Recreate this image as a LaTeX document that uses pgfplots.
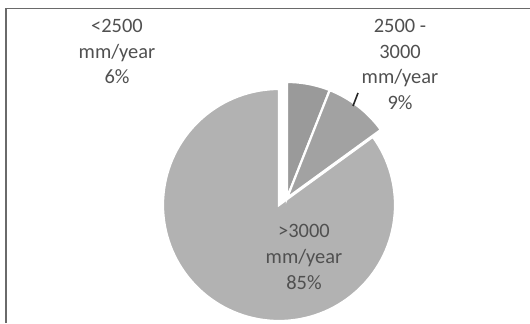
\documentclass[border=0pt]{standalone}
\usepackage{pgfplots}
\usepackage{pgfplotstable}
\pgfplotsset{compat=1.18}
\usepackage{fontspec}
\setmainfont{Carlito}
\definecolor{sliceA}{HTML}{9A9A9A}
\definecolor{sliceB}{HTML}{A2A2A2}
\definecolor{sliceC}{HTML}{B2B2B2}
\definecolor{txt}{HTML}{505050}
\definecolor{frame}{HTML}{6A6A6A}

\pgfplotstableread{
label value
low 6
mid 9
high 85
}\piedata

\begin{document}
\begin{tikzpicture}
\begin{axis}[
  width=530bp, height=323bp, scale only axis,
  xmin=0, xmax=530, ymin=0, ymax=323,
  hide axis, clip=false,
]
\pgfplotstablegetelem{0}{value}\of\piedata \let\vA\pgfplotsretval
\pgfplotstablegetelem{1}{value}\of\piedata \let\vB\pgfplotsretval
\pgfplotstablegetelem{2}{value}\of\piedata \let\vC\pgfplotsretval
\pgfmathsetmacro\aS{90}
\pgfmathsetmacro\aA{90-3.6*\vA}
\pgfmathsetmacro\aB{\aA-3.6*\vB}
\pgfmathsetmacro\aC{\aB-3.6*\vC}
% big slice
\addplot[fill=sliceC, draw=white, line width=2.2bp, domain=\aB:\aC, samples=120, variable=\t]
  ({279+116*cos(\t)},{118+116*sin(\t)}) -- (279,118) -- cycle;
% small slices (exploded)
\addplot[fill=sliceA, draw=white, line width=2.2bp, domain=\aS:\aA, samples=20, variable=\t]
  ({287+116*cos(\t)},{125+116*sin(\t)}) -- (287,125) -- cycle;
\addplot[fill=sliceB, draw=white, line width=2.2bp, domain=\aA:\aB, samples=25, variable=\t]
  ({287+116*cos(\t)},{125+116*sin(\t)}) -- (287,125) -- cycle;
% leader line
\addplot[draw=black!85, line width=1.6bp] coordinates {(353,217) (358,230)};
% frame
\addplot[draw=frame, line width=1.6bp] coordinates {(6,0) (6,314.5) (530,314.5)};
% labels
\node[align=center, text=txt, font=\fontsize{20.5}{26}\selectfont] at (117,271.5) {<2500\\mm/year\\6\%};
\node[align=center, text=txt, font=\fontsize{20.5}{26}\selectfont] at (400,258.5) {2500 -\\3000\\mm/year\\9\%};
\node[align=center, text=txt, font=\fontsize{20.5}{26}\selectfont] at (304,66) {>3000\\mm/year\\85\%};
\coordinate (bl) at (rel axis cs:0,0);
\coordinate (tr) at (rel axis cs:1,1);
\end{axis}
\pgfresetboundingbox
\path (bl) rectangle (tr);
\end{tikzpicture}
\end{document}
